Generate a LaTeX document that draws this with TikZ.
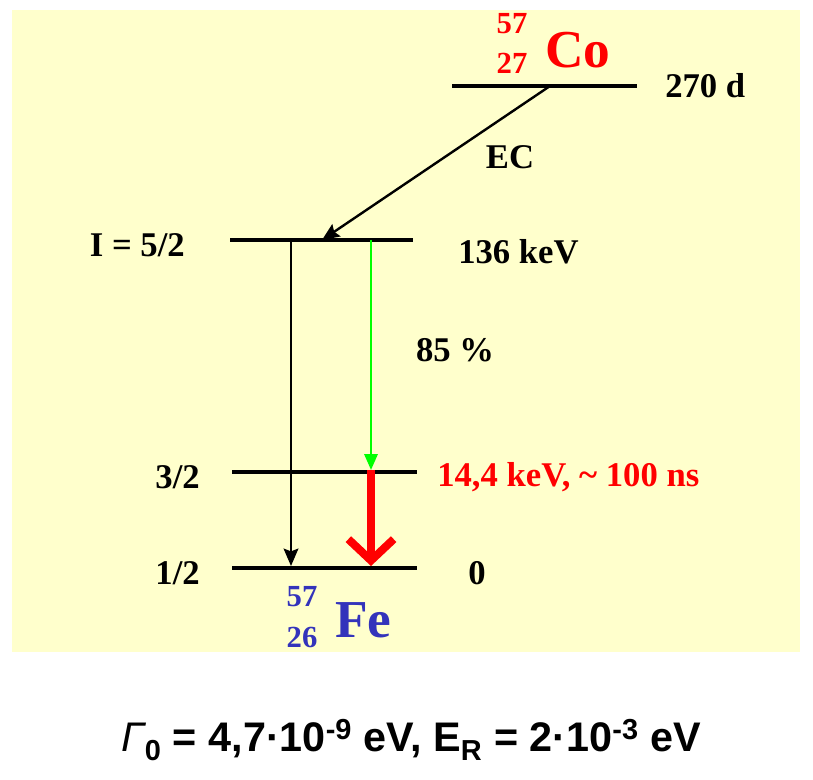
\documentclass[tikz,border=0pt]{standalone}
\usepackage{fontspec}
\setmainfont{Liberation Serif}
\newfontfamily\arialfont{Liberation Sans}
\usetikzlibrary{arrows.meta}
\definecolor{slidebg}{HTML}{FFFFCC}
\definecolor{cored}{HTML}{FF0000}
\definecolor{feblue}{HTML}{3333BB}
\definecolor{gammagreen}{HTML}{00FF00}

\begin{document}
\begin{tikzpicture}[x=0.75pt, y=-0.75pt,
  level/.style={line width=2.3pt},
  lab/.style={font=\fontsize{26}{30}\selectfont\bfseries, inner sep=0pt},
  big/.style={font=\fontsize{40}{48}\selectfont\bfseries, inner sep=0pt},
  iso/.style={font=\fontsize{23}{26}\selectfont\bfseries, inner sep=0pt},
  decay/.style={line width=1.8pt, -{Stealth[length=13pt, width=11pt, inset=2pt]}}]
  \useasboundingbox (0,0) rectangle (813,780);
  \fill[slidebg] (12,10) rectangle (800,652);
  % energy levels
  \coordinate (co l) at (452,86);  \coordinate (co r) at (637,86);
  \coordinate (ex l) at (230,240); \coordinate (ex r) at (413,240);
  \coordinate (mi l) at (232,472); \coordinate (mi r) at (417,472);
  \coordinate (gr l) at (232,568); \coordinate (gr r) at (417,568);
  \draw[level] (co l) -- (co r);
  \draw[level] (ex l) -- (ex r);
  \draw[level] (mi l) -- (mi r);
  \draw[level] (gr l) -- (gr r);
  % transitions
  \coordinate (ec a) at (550,86);  \coordinate (ec b) at (322,240);
  \coordinate (k a) at (291,240);  \coordinate (k b) at (291,566);
  \coordinate (g a) at (371,240);  \coordinate (g b) at (371,470);
  \coordinate (m b) at (371,566);
  \draw[decay] (ec a) -- (ec b);
  \draw[decay] (k a) -- (k b);
  \draw[decay, gammagreen, -{Triangle[length=12pt, width=10pt]}] (g a) -- (g b);
  \draw[cored, line width=6pt, -{Straight Barb[length=16pt, width=34pt]}] (g b) -- (m b);
  % labels
  \node[lab, anchor=west] (t co) at (665,86) {270 d};
  \node[lab] (ec) at (510,157) {EC};
  \node[lab, anchor=east] (spin ex) at (185,245) {I = 5/2};
  \node[lab, anchor=west] (e ex) at (458,252) {136 keV};
  \node[lab] (branch) at (455,350) {85 \%};
  \node[lab, anchor=east] (spin mi) at (200,477) {3/2};
  \node[lab, anchor=west, text=cored] (e mi) at (437,477) {14,4 keV, \textasciitilde{} 100 ns};
  \node[lab, anchor=east] (spin gr) at (200,573) {1/2};
  \node[lab, anchor=west] (e gr) at (468,573) {0};
  % nuclides
  \node[iso, text=cored] (co a) at (512,24) {57};
  \node[iso, text=cored] (co z) at (512,63) {27};
  \node[big, anchor=west, text=cored] (co) at (545,50) {Co};
  \node[iso, text=feblue] (fe a) at (302,597) {57};
  \node[iso, text=feblue] (fe z) at (302,637) {26};
  \node[big, anchor=west, text=feblue] (fe) at (335,620) {Fe};
  % widths
  \node[inner sep=0pt, font=\arialfont\bfseries\fontsize{31}{36}\selectfont] (width) at (411,740)
    {{\mdseries\itshape Γ}\textsubscript{0} = 4,7·10\textsuperscript{-9} eV, E\textsubscript{R} = 2·10\textsuperscript{-3} eV};
\end{tikzpicture}
\end{document}
